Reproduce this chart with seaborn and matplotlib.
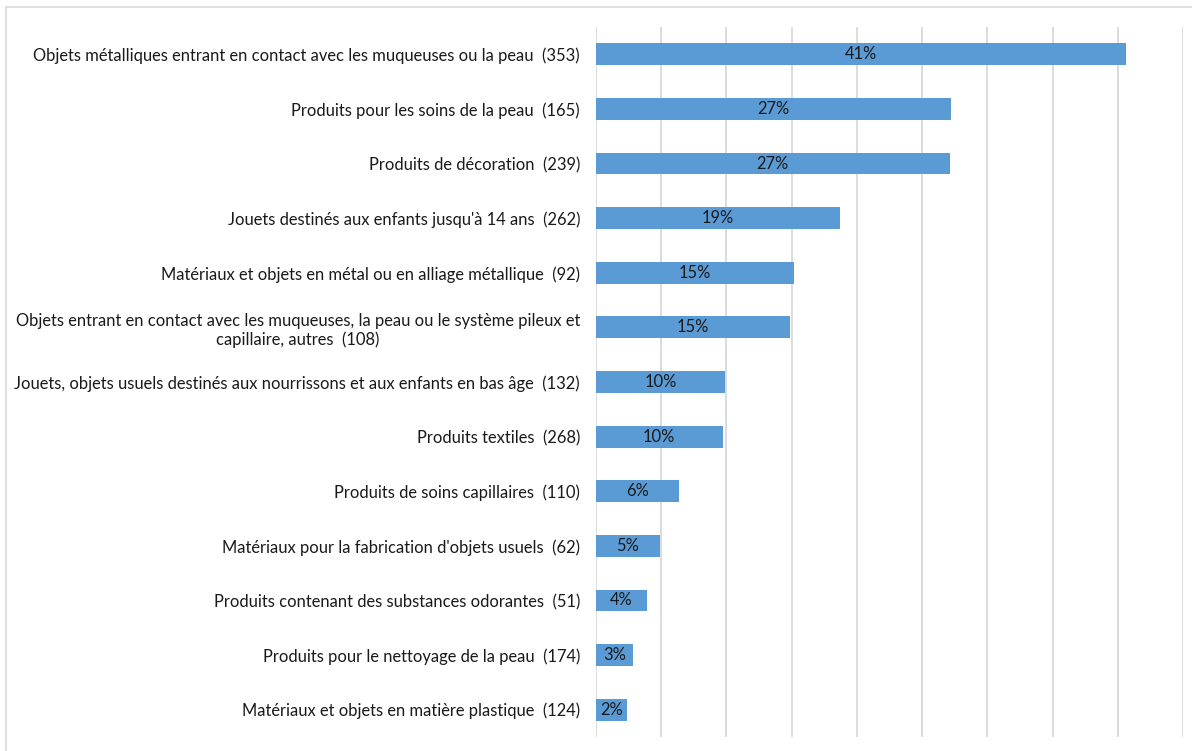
import matplotlib
matplotlib.use("Agg")
import matplotlib.pyplot as plt
import matplotlib.transforms as mtransforms
from matplotlib.patches import Rectangle
import seaborn as sns
import pandas as pd

categories = [
    "Objets métalliques entrant en contact avec les muqueuses ou la peau  (353)",
    "Produits pour les soins de la peau  (165)",
    "Produits de décoration  (239)",
    "Jouets destinés aux enfants jusqu'à 14 ans  (262)",
    "Matériaux et objets en métal ou en alliage métallique  (92)",
    "Objets entrant en contact avec les muqueuses, la peau ou le système pileux et\ncapillaire, autres  (108)",
    "Jouets, objets usuels destinés aux nourrissons et aux enfants en bas âge  (132)",
    "Produits textiles  (268)",
    "Produits de soins capillaires  (110)",
    "Matériaux pour la fabrication d'objets usuels  (62)",
    "Produits contenant des substances odorantes  (51)",
    "Produits pour le nettoyage de la peau  (174)",
    "Matériaux et objets en matière plastique  (124)",
]
percentages = [40.6, 27.2, 27.1, 18.7, 15.2, 14.9, 9.9, 9.7, 6.4, 4.9, 3.9, 2.8, 2.4]
grid_ticks = [0, 5, 10, 15, 20, 25, 30, 35, 40, 45]

BAR_COLOR = "#5B9BD5"
GRID_COLOR = "#D9D9D9"
TEXT_COLOR = "#1A1A1A"
FONT_SIZE = 11.9

sns.set_theme(style="white")
plt.rcParams["font.family"] = ["Lato", "DejaVu Sans"]

df = pd.DataFrame({"categorie": categories, "part": percentages})

fig = plt.figure(figsize=(11.92, 7.51), dpi=100)
ax = fig.add_axes([596 / 1192, 1 - 737 / 751, 587 / 1192, 710 / 751])

sns.barplot(data=df, x="part", y="categorie", orient="h", color=BAR_COLOR,
            width=0.4, saturation=1, linewidth=0, ax=ax, zorder=3)

ax.set_xlim(0, 45)
ax.set_ylim(len(categories) - 0.5, -0.5)
ax.set_xticks(grid_ticks)
ax.set_xticklabels([])
ax.tick_params(axis="x", length=0)
ax.tick_params(axis="y", length=0, pad=11.5, labelsize=FONT_SIZE,
               labelcolor=TEXT_COLOR)
for lbl in ax.get_yticklabels():
    lbl.set_multialignment("center")
ax.grid(axis="x", color=GRID_COLOR, linewidth=1.3, zorder=0)
ax.grid(axis="y", visible=False)
for sp in ax.spines.values():
    sp.set_visible(False)
ax.set_xlabel("")
ax.set_ylabel("")

value_texts = ax.bar_label(ax.containers[0],
                           labels=[f"{v:.0f}%" for v in percentages],
                           label_type="center", fontsize=FONT_SIZE,
                           color=TEXT_COLOR)
# nudge the value labels slightly down so they sit optically centred
for t in value_texts:
    t.set_transform(t.get_transform() + mtransforms.ScaledTranslation(
        0, -1.5 / 72, fig.dpi_scale_trans))

# chart frame
fig.patches.append(Rectangle((6 / 1192, -0.05), 1.1, 1 - 7.5 / 751 + 0.05,
                             transform=fig.transFigure, fill=False,
                             edgecolor="#D9D9D9", linewidth=1.2))

fig.savefig("out.png", dpi=100)
